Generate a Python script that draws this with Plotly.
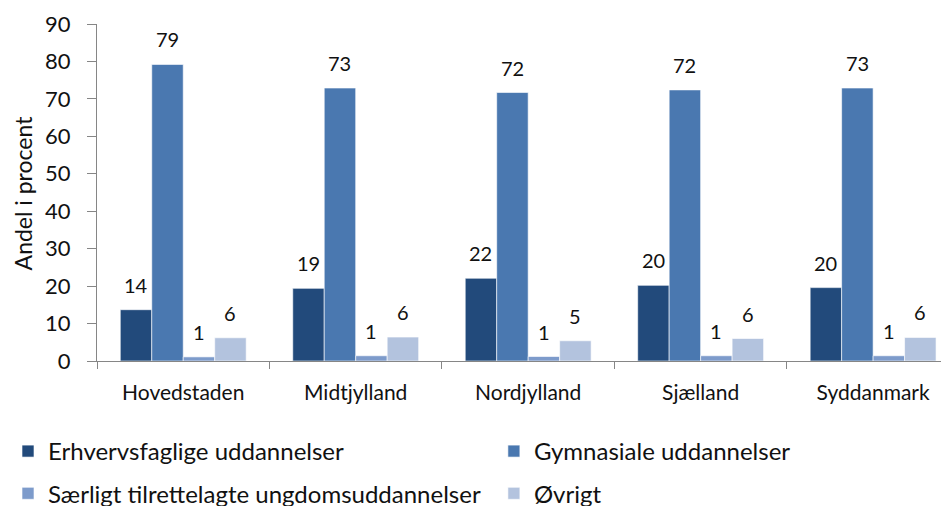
import plotly.graph_objects as go

regions = ["Hovedstaden", "Midtjylland", "Nordjylland", "Sjælland", "Syddanmark"]
series_names = ["Erhvervsfaglige uddannelser", "Gymnasiale uddannelser",
                "Særligt tilrettelagte ungdomsuddannelser", "Øvrigt"]
erhverv = [13.7, 19.4, 22.1, 20.2, 19.6]
gymnasiale = [79.2, 72.9, 71.7, 72.4, 72.9]
saerligt = [1.1, 1.4, 1.2, 1.4, 1.4]
ovrigt = [6.2, 6.4, 5.4, 6.0, 6.3]
y_ticks = [0, 10, 20, 30, 40, 50, 60, 70, 80, 90]

values = [erhverv, gymnasiale, saerligt, ovrigt]
colors = ["#224A7B", "#4A78B0", "#7D9BCB", "#B3C3DE"]
legend_ids = ["legend", "legend2", "legend", "legend2"]

FONT = "Lato"
TXT = "#111"
fig = go.Figure()
for i, (name, vals, col) in enumerate(zip(series_names, values, colors)):
    fig.add_trace(go.Bar(
        name=name, x=regions, y=vals,
        marker=dict(color=col, line=dict(color="rgba(255,255,255,0.6)", width=1)),
        legend=legend_ids[i], legendgroup=name,
    ))

bargap = 0.27
bw = (1 - bargap) / len(values)
annotations = []
for k, vals in enumerate(values):
    off = -(1 - bargap) / 2 + (k + 0.5) * bw
    for j, v in enumerate(vals):
        annotations.append(dict(
            x=j + off, y=v, xref="x", yref="y", text=f"{round(v):d}",
            showarrow=False, yanchor="bottom", yshift=11,
            font=dict(family=FONT, size=20, color=TXT),
        ))

annotations.append(dict(
    text="Andel i procent", xref="paper", yref="paper", x=-0.087, y=0.5,
    xanchor="center", yanchor="middle", textangle=-90, showarrow=False,
    font=dict(family=FONT, size=23, color=TXT),
))

leg_common = dict(orientation="v", xref="container", yref="container",
                  xanchor="left", yanchor="top", tracegroupgap=8,
                  font=dict(family=FONT, size=24, color=TXT),
                  bgcolor="rgba(0,0,0,0)")

fig.update_layout(
    width=949, height=506,
    margin=dict(l=89, r=8, t=16, b=153, autoexpand=False),
    paper_bgcolor="white", plot_bgcolor="white",
    barmode="group", bargap=bargap, bargroupgap=0,
    font=dict(family=FONT, size=20, color=TXT),
    showlegend=True,
    annotations=annotations,
    legend=dict(x=0.0, y=0.168, **leg_common),
    legend2=dict(x=0.512, y=0.168, **leg_common),
)
fig.update_xaxes(
    range=[-0.5, 4.44], showline=True, linecolor="#868686", linewidth=1,
    ticks="outside", tickson="boundaries", ticklen=7, tickcolor="#868686",
    ticklabelstandoff=13, showgrid=False, zeroline=False, automargin=False,
    tickfont=dict(family=FONT, size=21, color=TXT),
)
fig.update_yaxes(
    range=[0, 90], tickvals=y_ticks, showline=True, linecolor="#868686", linewidth=1,
    ticks="outside", ticklen=9, tickcolor="#868686", showgrid=False, zeroline=False,
    ticklabelstandoff=12, automargin=False,
    tickfont=dict(family=FONT, size=22, color=TXT),
)
fig.write_html("out.html")
